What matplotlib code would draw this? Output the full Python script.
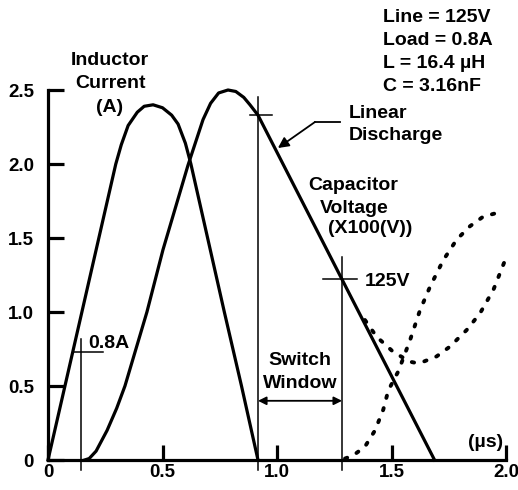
import matplotlib
matplotlib.use("Agg")
import matplotlib.pyplot as plt
from matplotlib.patches import FancyArrowPatch

plt.rcParams['font.family'] = ['Liberation Sans', 'DejaVu Sans']
plt.rcParams['font.weight'] = 'bold'

# Inductor current (A)
ind_t = [0.0, 0.074, 0.148, 0.222, 0.296, 0.32, 0.35, 0.39, 0.42, 0.459, 0.50, 0.54,
         0.568, 0.60, 0.624, 0.697, 0.77, 0.845, 0.917]
ind_i = [0.0, 0.5, 1.0, 1.5, 2.0, 2.13, 2.26, 2.35, 2.39, 2.40, 2.38, 2.33,
         2.27, 2.14, 2.0, 1.5, 1.0, 0.5, 0.0]

# Capacitor voltage (x100 V)
cap_t = [0.16, 0.18, 0.21, 0.258, 0.30, 0.336, 0.432, 0.502, 0.611, 0.677, 0.71, 0.745,
         0.786, 0.82, 0.855, 0.882, 0.917, 1.284, 1.688]
cap_v = [0.0, 0.01, 0.06, 0.2, 0.35, 0.5, 1.0, 1.42, 1.99, 2.30, 2.41, 2.48,
         2.50, 2.49, 2.45, 2.40, 2.33, 1.22, 0.0]

# Dotted curve A (rising from zero)
dotA_t = [1.297, 1.332, 1.384, 1.428, 1.464, 1.486, 1.530, 1.581, 1.624, 1.668, 1.726,
          1.785, 1.843, 1.901, 1.95, 1.988]
dotA_v = [0.01, 0.03, 0.09, 0.20, 0.34, 0.47, 0.60, 0.81, 1.01, 1.17, 1.35,
          1.49, 1.58, 1.645, 1.665, 1.667]

# Dotted curve B (branching from discharge line)
dotB_t = [1.384, 1.435, 1.508, 1.581, 1.61, 1.639, 1.697, 1.755, 1.828, 1.886, 1.945, 1.996]
dotB_v = [0.946, 0.833, 0.73, 0.664, 0.655, 0.664, 0.70, 0.766, 0.878, 0.99, 1.15, 1.35]

xticks = [0, 0.5, 1.0, 1.5, 2.0]
xtick_labels = ['0', '0.5', '1.0', '1.5', '2.0']
yticks = [0, 0.5, 1.0, 1.5, 2.0, 2.5]
ytick_labels = ['0', '0.5', '1.0', '1.5', '2.0', '2.5']

W, H = 518, 490
fig = plt.figure(figsize=(W / 100, H / 100), dpi=100)
ax = fig.add_axes([48 / W, 30 / H, 458 / W, 370 / H])
ax.set_xlim(0, 2.0)
ax.set_ylim(0, 2.5)

lw = 2.3
ax.plot(ind_t, ind_i, color='black', lw=lw, solid_joinstyle='round', clip_on=False)
ax.plot(cap_t, cap_v, color='black', lw=lw, solid_joinstyle='round', clip_on=False)
ax.plot(dotA_t, dotA_v, color='black', lw=2.8, linestyle=(0, (0.6, 2.7)),
        dash_capstyle='round', clip_on=False)
ax.plot(dotB_t, dotB_v, color='black', lw=2.8, linestyle=(0, (0.6, 2.7)),
        dash_capstyle='round', clip_on=False)

for s in ['top', 'right']:
    ax.spines[s].set_visible(False)
for s in ['left', 'bottom']:
    ax.spines[s].set_linewidth(2.3)
ax.set_xticks(xticks)
ax.set_xticklabels(xtick_labels)
ax.set_yticks(yticks)
ax.set_yticklabels(ytick_labels)
ax.tick_params(axis='both', direction='in', width=2.3, labelsize=13.5)
ax.tick_params(axis='y', length=11.5, pad=10)
ax.tick_params(axis='x', length=11, pad=3)
ax.patch.set_visible(False)

thin = 1.1
kw = dict(color='black', lw=thin, clip_on=False)
# 0.8A marker
ax.plot([0.143, 0.143], [0.82, -0.07], **kw)
ax.plot([0.11, 0.24], [0.73, 0.73], **kw)
# cross markers
ax.plot([0.917, 0.917], [2.45, -0.07], **kw)
ax.plot([0.88, 0.98], [2.33, 2.33], **kw)
ax.plot([1.284, 1.284], [1.37, -0.07], **kw)
ax.plot([1.20, 1.35], [1.22, 1.22], **kw)

# switch window arrow
ax.add_patch(FancyArrowPatch((0.917, 0.40), (1.284, 0.40), arrowstyle='<|-|>',
                             mutation_scale=12, lw=1.3, color='black',
                             shrinkA=0, shrinkB=0, clip_on=False))
# linear discharge arrow
ax.plot([1.275, 1.166], [2.284, 2.284], color='black', lw=1.3, clip_on=False)
ax.add_patch(FancyArrowPatch((1.166, 2.284), (1.004, 2.108), arrowstyle='-|>',
                             mutation_scale=16, lw=1.3, color='black',
                             shrinkA=0, shrinkB=0, clip_on=False))

def px(xp, yp):
    return (xp - 48) / 229.0, (460 - yp) / 148.0

def txt(xp, yp, s, ha='left'):
    x, y = px(xp, yp)
    ax.text(x, y, s, ha=ha, va='baseline', fontsize=14, fontweight='bold', clip_on=False)

txt(110, 65, 'Inductor', 'center')
txt(110, 88, 'Current', 'center')
txt(110, 112, '(A)', 'center')
txt(383, 22, 'Line = 125V')
txt(383, 45, 'Load = 0.8A')
txt(383, 68, 'L = 16.4 \u00b5H')
txt(383, 91, 'C = 3.16nF')
txt(349, 118, 'Linear')
txt(349, 140, 'Discharge')
txt(308, 190, 'Capacitor')
txt(320, 213, 'Voltage')
txt(328, 233, '(X100(V))')
txt(365, 286, '125V')
txt(300, 365, 'Switch', 'center')
txt(300, 388, 'Window', 'center')
txt(88, 348, '0.8A')
txt(468, 447, '(\u00b5s)')

fig.savefig('out.png', dpi=100)
